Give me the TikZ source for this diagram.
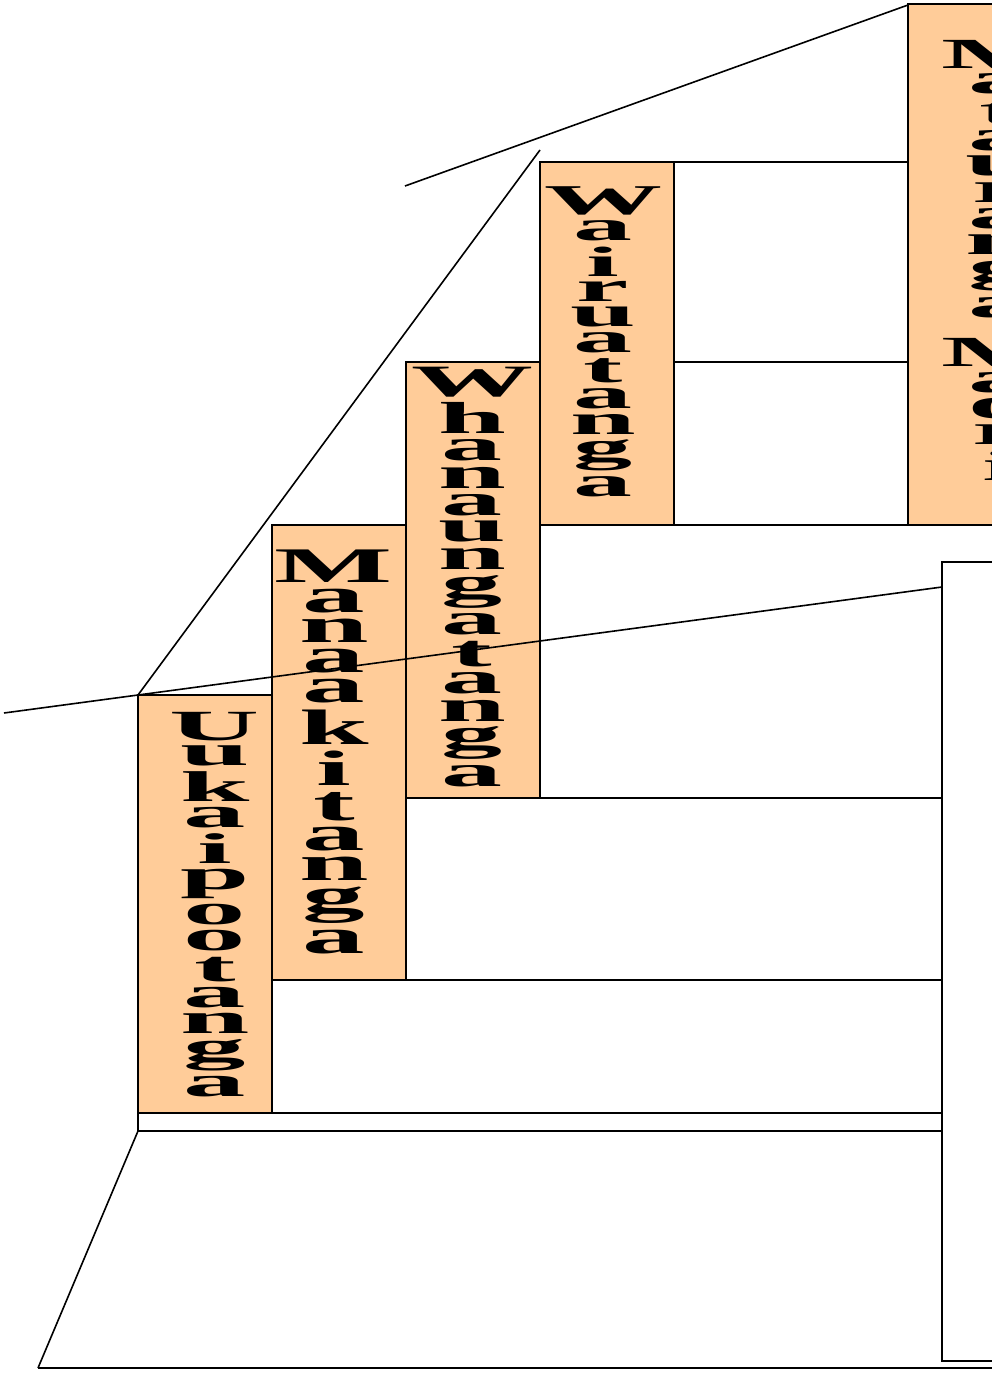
\documentclass[tikz,border=0pt]{standalone}
\usepackage{fontspec}
\usepackage{graphicx}
\setmainfont{Liberation Serif}
\definecolor{stepfill}{HTML}{FFCC99}
\newcommand\vword[1]{\vbox{\baselineskip-1pt\lineskip0.13em\lineskiplimit0pt\halign{\hfil##\hfil\cr#1\crcr}}}
\tikzset{
  stepbox/.style={draw=black, fill=stepfill, line width=1.6pt},
  edge/.style={draw=black, line width=1.6pt},
  word/.style={inner sep=0pt, outer sep=0pt, anchor=north, font=\bfseries}
}
\begin{document}
\begin{tikzpicture}[x=1pt,y=-1pt]
\useasboundingbox (0,0) rectangle (992,1375);
\clip (0,0) rectangle (992,1375);
% key points
\coordinate (bigTL) at (942,562);
\coordinate (bigBR) at (1100,1361);
\coordinate (floorL) at (38,1368);
\coordinate (floorR) at (1100,1368);
\coordinate (baseTL) at (138,1131);
\coordinate (baseTR) at (942,1131);
\coordinate (bandL) at (138,1113);
\coordinate (bandR) at (942,1113);
\coordinate (h980L) at (272,980);
\coordinate (h980R) at (942,980);
\coordinate (h798L) at (540,798);
\coordinate (h798R) at (942,798);
\coordinate (h525L) at (674,525);
\coordinate (h525R) at (908,525);
\coordinate (h362L) at (674,362);
\coordinate (h362R) at (908,362);
\coordinate (h162L) at (674,162);
\coordinate (h162R) at (908,162);
\coordinate (longL) at (4,713);
\coordinate (longR) at (942,587);
\coordinate (diagB) at (138,695);
\coordinate (diagT) at (540,150);
\coordinate (roofL) at (405,186);
\coordinate (roofR) at (908,5);
% background structure
\draw[edge] (bigTL) rectangle (bigBR);
\draw[edge] (floorL) -- (baseTL) -- (baseTR);
\draw[edge] (floorL) -- (floorR);
\draw[edge] (bandL) -- (bandR);
\draw[edge] (bandL) -- (baseTL);
\draw[edge] (h980L) -- (h980R);
\draw[edge] (h798L) -- (h798R);
\draw[edge] (h525L) -- (h525R);
\draw[edge] (h362L) -- (h362R);
\draw[edge] (h162L) -- (h162R);
% steps
\draw[stepbox] (138,695) rectangle (272,1113);
\draw[stepbox] (272,525) rectangle (406,980);
\draw[stepbox] (406,362) rectangle (540,798);
\draw[stepbox] (540,162) rectangle (674,525);
\draw[stepbox] (908,4) rectangle (1042,525);
% words
\node[word] (uuka) at (215,712) {\resizebox*{90pt}{385pt}{\vword{U\cr u\cr k\cr a\cr i\cr p\cr o\cr o\cr t\cr a\cr n\cr g\cr a}}};
\node[word] (manaaki) at (334,550) {\resizebox*{118pt}{404pt}{\vword{M\cr a\cr n\cr a\cr a\cr k\cr i\cr t\cr a\cr n\cr g\cr a}}};
\node[word] (whanau) at (472,367) {\resizebox*{122pt}{420pt}{\vword{W\cr h\cr a\cr n\cr a\cr u\cr n\cr g\cr a\cr t\cr a\cr n\cr g\cr a}}};
\node[word] (wairua) at (603,187) {\resizebox*{118pt}{310pt}{\vword{W\cr a\cr i\cr r\cr u\cr a\cr t\cr a\cr n\cr g\cr a}}};
\node[word] (matau) at (1000,40) {\resizebox*{118pt}{440pt}{\vword{M\cr a\cr t\cr a\cr u\cr r\cr a\cr n\cr g\cr a\cr\noalign{\vskip0.35em}M\cr a\cr o\cr r\cr i}}};
% lines on top
\draw[edge] (longL) -- (longR);
\draw[edge] (diagB) -- (diagT);
\draw[edge] (roofL) -- (roofR);
\end{tikzpicture}
\end{document}
